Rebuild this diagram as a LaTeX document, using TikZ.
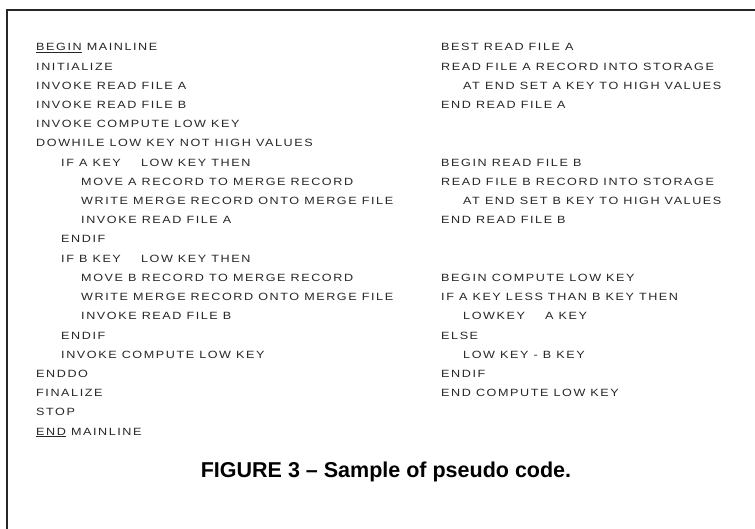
\documentclass[tikz,border=0pt]{standalone}
\usepackage{fontspec}
\setmainfont{Liberation Sans}
\newfontfamily\codefont[FakeStretch=1.2,LetterSpace=15]{Liberation Sans}
\begin{document}
\begin{tikzpicture}[x=1pt,y=-1pt,
  code/.style={anchor=base west,inner sep=0pt,text=black!85,
    font=\codefont\fontsize{10.5}{12}\selectfont},
  caption/.style={anchor=base,inner sep=0pt,
    font=\bfseries\fontsize{21.5}{24}\selectfont},
  rule/.style={line width=1.5pt,black!85}]
\useasboundingbox (0,0) rectangle (755,529);
% frame: top and left rules
\coordinate (tl) at (7,10);
\coordinate (tr) at (755,10);
\coordinate (bl) at (7,529);
\draw[rule] (tr) -- (tl) -- (bl);
% row geometry (baselines)
\def\rowsep{19.2}
\def\rowtop{51}
% left column: main line
\foreach \r/\x/\t in {
  0/36/{\underline{BEGIN} MAINLINE},
  1/36/{INITIALIZE},
  2/36/{INVOKE READ FILE A},
  3/36/{INVOKE READ FILE B},
  4/36/{INVOKE COMPUTE LOW KEY},
  5/36/{DOWHILE LOW KEY NOT HIGH VALUES},
  6/61/{IF A KEY \hspace{10pt} LOW KEY THEN},
  7/81/{MOVE A RECORD TO MERGE RECORD},
  8/81/{WRITE MERGE RECORD ONTO MERGE FILE},
  9/81/{INVOKE READ FILE A},
  10/61/{ENDIF},
  11/61/{IF B KEY \hspace{10pt} LOW KEY THEN},
  12/81/{MOVE B RECORD TO MERGE RECORD},
  13/81/{WRITE MERGE RECORD ONTO MERGE FILE},
  14/81/{INVOKE READ FILE B},
  15/61/{ENDIF},
  16/61/{INVOKE COMPUTE LOW KEY},
  17/36/{ENDDO},
  18/36/{FINALIZE},
  19/36/{STOP},
  20/36/{\underline{END} MAINLINE}}
  \node[code] (L\r) at (\x,{\rowtop+\r*\rowsep}) {\t};
% right column: read and compute modules
\foreach \r/\x/\t in {
  0/441/{BEST READ FILE A},
  1/441/{READ FILE A RECORD INTO STORAGE},
  2/463/{AT END SET A KEY TO HIGH VALUES},
  3/441/{END READ FILE A},
  6/441/{BEGIN READ FILE B},
  7/441/{READ FILE B RECORD INTO STORAGE},
  8/463/{AT END SET B KEY TO HIGH VALUES},
  9/441/{END READ FILE B},
  12/441/{BEGIN COMPUTE LOW KEY},
  13/441/{IF A KEY LESS THAN B KEY THEN},
  14/463/{LOWKEY \hspace{10pt} A KEY},
  15/441/{ELSE},
  16/463/{LOW KEY - B KEY},
  17/441/{ENDIF},
  18/441/{END COMPUTE LOW KEY}}
  \node[code] (R\r) at (\x,{\rowtop+\r*\rowsep}) {\t};
% caption
\node[caption] (cap) at (386,477) {FIGURE 3 -- Sample of pseudo code.};
\end{tikzpicture}
\end{document}
